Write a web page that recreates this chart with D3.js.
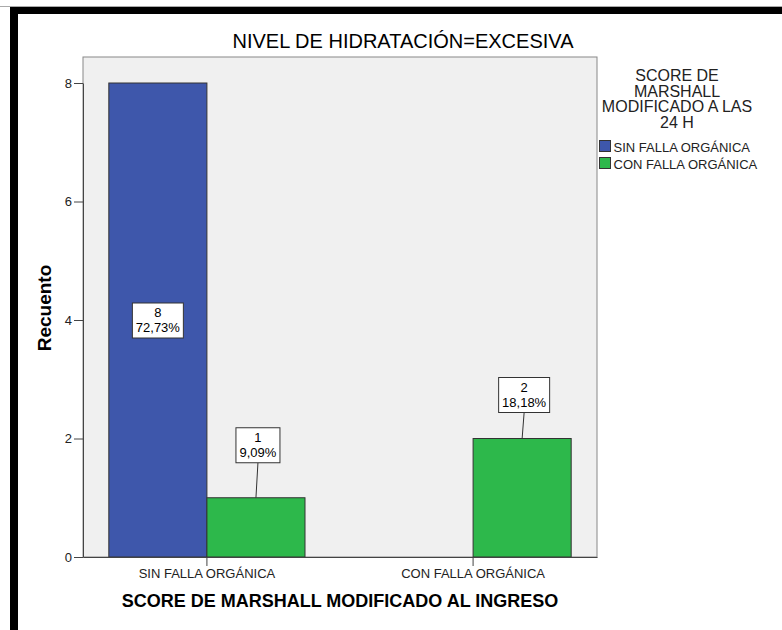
<!DOCTYPE html>
<html>
<head>
<meta charset="utf-8">
<script src="https://cdn.jsdelivr.net/npm/d3@7"></script>
<style>
  body { margin: 0; background: #fff; }
  text { font-family: Arial, "Liberation Sans", sans-serif; }
</style>
</head>
<body>
<svg></svg>
<script>
// Chart data
const categories = ["SIN FALLA ORGÁNICA", "CON FALLA ORGÁNICA"];
const seriesNames = ["SIN FALLA ORGÁNICA", "CON FALLA ORGÁNICA"];
const sinFalla = [8, 0];
const conFalla = [1, 2];
const percents = [["72,73%", null], ["9,09%", "18,18%"]];
const yTicks = [0, 2, 4, 6, 8];
const colors = ["#3e57ab", "#2db84b"];

const width = 782;
const height = 630;

const svg = d3.select("svg")
    .attr("width", width)
    .attr("height", height);

// black frame on top and left
svg.append("rect").attr("x", 0).attr("y", 6).attr("width", width).attr("height", 1).attr("fill", "#aaa");
svg.append("rect").attr("x", 10).attr("y", 7).attr("width", width - 10).attr("height", 7).attr("fill", "#000");
svg.append("rect").attr("x", 10).attr("y", 7).attr("width", 8).attr("height", height - 7).attr("fill", "#000");

const plot = { left: 83, top: 57, right: 597, bottom: 557 };

const x0 = d3.scaleBand()
    .domain(categories)
    .range([plot.left, plot.right])
    .paddingInner(0.263)
    .paddingOuter(0.097);

const x1 = d3.scaleBand()
    .domain(seriesNames)
    .range([0, x0.bandwidth()]);

const y = d3.scaleLinear()
    .domain([0, 8])
    .range([plot.bottom, 83]);

// plot background
svg.append("rect")
    .attr("x", plot.left).attr("y", plot.top)
    .attr("width", plot.right - plot.left).attr("height", plot.bottom - plot.top)
    .attr("fill", "#f0f0f0")
    .attr("stroke", "#888")
    .attr("stroke-width", 1);

// title
svg.append("text")
    .attr("x", 403).attr("y", 48)
    .attr("text-anchor", "middle")
    .attr("font-size", 20)
    .text("NIVEL DE HIDRATACIÓN=EXCESIVA");

// y axis
const yAxis = svg.append("g")
    .attr("transform", `translate(${plot.left},0)`)
    .call(d3.axisLeft(y).tickValues(yTicks).tickSize(9).tickSizeOuter(0).tickPadding(2));
yAxis.select(".domain").attr("stroke", "#444");
yAxis.selectAll(".tick line").attr("stroke", "#444");
yAxis.selectAll(".tick text").attr("font-size", 13).attr("fill", "#222")
    .attr("font-family", "Arial, 'Liberation Sans', sans-serif");

svg.append("text")
    .attr("transform", "translate(51,308) rotate(-90)")
    .attr("text-anchor", "middle")
    .attr("font-size", 19)
    .attr("font-weight", "bold")
    .text("Recuento");

// bars
const rows = categories.map((c, i) => ({ cat: c, values: [sinFalla[i], conFalla[i]], pct: [percents[0][i], percents[1][i]] }));

const groups = svg.selectAll("g.grp")
    .data(rows)
    .enter().append("g")
    .attr("class", "grp")
    .attr("transform", d => `translate(${x0(d.cat)},0)`);

groups.selectAll("rect")
    .data(d => d.values.map((v, j) => ({ s: seriesNames[j], v: v, j: j })).filter(e => e.v > 0))
    .enter().append("rect")
    .attr("x", d => x1(d.s))
    .attr("y", d => y(d.v))
    .attr("width", x1.bandwidth())
    .attr("height", d => y(0) - y(d.v))
    .attr("fill", d => colors[d.j])
    .attr("stroke", "#333")
    .attr("stroke-width", 1);

// x axis
const xAxis = svg.append("g")
    .attr("transform", `translate(0,${plot.bottom})`)
    .call(d3.axisBottom(x0).tickSize(9).tickSizeOuter(0).tickPadding(3));
xAxis.select(".domain").attr("stroke", "#444");
xAxis.selectAll(".tick line").attr("stroke", "#444");
xAxis.selectAll(".tick text").attr("font-size", 13).attr("fill", "#222")
    .attr("font-family", "Arial, 'Liberation Sans', sans-serif");

svg.append("text")
    .attr("x", 340).attr("y", 607)
    .attr("text-anchor", "middle")
    .attr("font-size", 18)
    .attr("font-weight", "bold")
    .text("SCORE DE MARSHALL MODIFICADO AL INGRESO");

// data labels
function label(cx, top, count, pct, barTop) {
    const w = pct.length > 5 ? 51 : 44;
    const h = 35;
    if (barTop !== null) {
        svg.append("line")
            .attr("x1", cx).attr("y1", top + h)
            .attr("x2", cx - 2).attr("y2", barTop)
            .attr("stroke", "#333");
    }
    svg.append("rect")
        .attr("x", cx - w / 2).attr("y", top)
        .attr("width", w).attr("height", h)
        .attr("fill", "#fff").attr("stroke", "#333");
    svg.append("text").attr("x", cx).attr("y", top + 14)
        .attr("text-anchor", "middle").attr("font-size", 13).text(count);
    svg.append("text").attr("x", cx).attr("y", top + 29)
        .attr("text-anchor", "middle").attr("font-size", 13).text(pct);
}

// gap between label box and bar top (null = inside bar)
const labelGap = [[null, null], [35, 26]];

rows.forEach((r, i) => {
    r.values.forEach((v, j) => {
        if (v <= 0) return;
        const cx = x0(r.cat) + x1(seriesNames[j]) + x1.bandwidth() / 2;
        const gap = labelGap[j][i];
        if (gap === null) {
            label(cx, y(v / 2) - 17, v, r.pct[j], null);
        } else {
            label(cx + 2, y(v) - gap - 35, v, r.pct[j], y(v));
        }
    });
});

// legend
const legendTitle = ["SCORE DE", "MARSHALL", "MODIFICADO A LAS", "24 H"];
svg.selectAll("text.lt")
    .data(legendTitle)
    .enter().append("text")
    .attr("class", "lt")
    .attr("x", 677)
    .attr("y", (d, i) => 81 + i * 15.5)
    .attr("text-anchor", "middle")
    .attr("font-size", 16)
    .attr("fill", "#222")
    .text(d => d);

const leg = svg.selectAll("g.leg")
    .data(seriesNames)
    .enter().append("g")
    .attr("class", "leg")
    .attr("transform", (d, i) => `translate(599.5,${140.5 + i * 17})`);
leg.append("rect")
    .attr("width", 11).attr("height", 11)
    .attr("fill", (d, i) => colors[i])
    .attr("stroke", "#333");
leg.append("text")
    .attr("x", 14).attr("y", 11)
    .attr("font-size", 13)
    .attr("fill", "#222")
    .text(d => d);
</script>
</body>
</html>
